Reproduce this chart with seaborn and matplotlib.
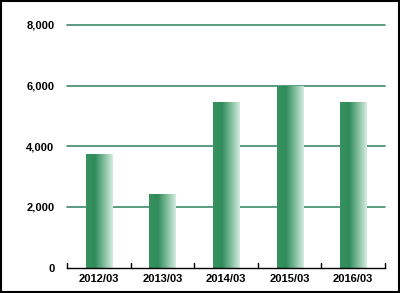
import matplotlib
matplotlib.use("Agg")
import matplotlib.pyplot as plt
import seaborn as sns
import numpy as np
import pandas as pd
from matplotlib.colors import LinearSegmentedColormap
from matplotlib.patches import Rectangle

categories = ["2012/03", "2013/03", "2014/03", "2015/03", "2016/03"]
values = [3740, 2420, 5455, 6000, 5455]
yticks = [0, 2000, 4000, 6000, 8000]
ytick_labels = ["0", "2,000", "4,000", "6,000", "8,000"]

df = pd.DataFrame({"period": categories, "value": values})

sns.set_theme(style="white")
plt.rcParams["font.family"] = ["Liberation Sans", "DejaVu Sans"]

fig = plt.figure(figsize=(4.0, 2.93), dpi=100)
ax = fig.add_axes([67/400, 1 - 267.5/293, (385-67)/400, (267.5-25)/293])

sns.barplot(data=df, x="period", y="value", ax=ax, color="#3a9060", width=0.41,
            saturation=1, zorder=3)

ax.set_ylim(0, 8000)
ax.set_xlim(-0.5, len(categories) - 0.5)
ax.set_yticks(yticks)
ax.set_yticklabels(ytick_labels)
ax.set_xlabel("")
ax.set_ylabel("")

for y in yticks[1:]:
    ax.axhline(y, color="#3d8a68", lw=1.2, zorder=1, clip_on=False)

cmap = LinearSegmentedColormap.from_list("g", ["#38935f", "#2f8b59", "#80bc9b", "#d6ece1"])
grad = np.linspace(0, 1, 256).reshape(1, -1)
for p in list(ax.patches):
    x0, y0 = p.get_x(), p.get_y()
    w, h = p.get_width(), p.get_height()
    p.set_visible(False)
    im = ax.imshow(grad, cmap=cmap, aspect="auto", extent=[x0, x0 + w, y0, y0 + h],
                   zorder=3, interpolation="bilinear")
    clip = Rectangle((x0, y0), w, h, transform=ax.transData, visible=False)
    ax.add_patch(clip)
    im.set_clip_path(clip)

for s in ["left", "right", "top"]:
    ax.spines[s].set_visible(False)
ax.spines["bottom"].set_color("black")
ax.spines["bottom"].set_linewidth(1.0)
ax.spines["bottom"].set_zorder(4)

ax.tick_params(axis="y", length=0, pad=9, labelsize=8)
ax.tick_params(axis="x", which="major", length=0, pad=5, labelsize=8)
for lab in ax.get_xticklabels() + ax.get_yticklabels():
    lab.set_fontweight("bold")
    lab.set_color("black")

ax.set_ylim(0, 8000)
ax.set_xlim(-0.5, len(categories) - 0.5)

# category-boundary tick marks pointing up from the baseline
bounds = np.arange(-0.5, len(categories) + 0.5, 1)
ax.plot(np.repeat(bounds, 3), np.tile([0, 150, np.nan], len(bounds)),
        color="black", lw=1.0, zorder=6, clip_on=False, scalex=False, scaley=False)

fig.patches.append(Rectangle((0.002, 0.003), 0.995, 0.993, transform=fig.transFigure,
                             fill=False, edgecolor="black", lw=1.5))

fig.savefig("out.png", dpi=100)
